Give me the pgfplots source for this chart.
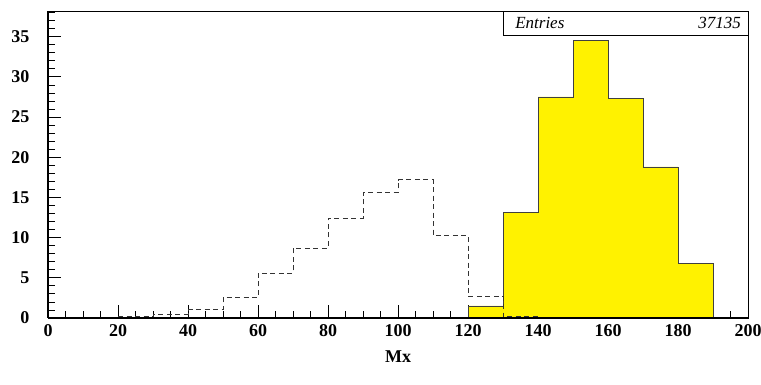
\documentclass[border=0pt]{standalone}
\usepackage{pgfplots}
\pgfplotsset{compat=1.18}
\usepackage{fontspec}
\setmainfont{Liberation Serif}
\begin{document}
\begin{tikzpicture}[x=1pt,y=1pt]
\useasboundingbox (0,0) rectangle (761,385);
\begin{axis}[
  at={(48pt,67pt)}, anchor=origin,
  scale only axis, width=700pt, height=307pt,
  xmin=0, xmax=200, ymin=0, ymax=38.2,
  xtick={0,20,...,200}, minor xtick={5,10,...,195},
  ytick={0,5,...,35}, minor ytick={1,2,...,38},
  tick align=inside, xtick pos=bottom, ytick pos=left,
  major tick length=13pt, minor tick length=7pt,
  every tick/.style={black, line width=0.8pt},
  /pgf/number format/assume math mode=true,
  tick label style={font=\fontsize{18}{20}\selectfont\bfseries},
  xticklabel style={yshift=-3pt},
  yticklabel style={xshift=-15pt},
  axis line style={line width=0.8pt},
  clip=false,
]
\addplot[const plot mark left, fill=yellow, draw=black!75, line width=0.7pt]
  coordinates {(120,0) (120,1.5) (130,13.1) (140,27.5) (150,34.5) (160,27.3) (170,18.8) (180,6.8) (190,6.8) (190,0)} \closedcycle;
\addplot[const plot mark left, draw=black!80, dash pattern=on 5pt off 3.5pt, line width=0.7pt]
  coordinates {(20,0.2) (30,0.45) (40,1.05) (50,2.55) (60,5.57) (70,8.68) (80,12.4) (90,15.6) (100,17.2) (110,10.3) (120,2.7) (130,0.15) (140,0.15) (140,0)};
\draw[line width=1.5pt] (axis cs:0,0) -- (axis cs:200,0);
\draw[line width=1.5pt] (axis cs:0,0) -- (axis cs:0,38.2);
\draw[fill=white, line width=0.8pt] (axis cs:130.2,38.2) rectangle (axis cs:200,35.2);
\node[anchor=west, font=\fontsize{17}{19}\selectfont\itshape] at (axis cs:132.5,36.7) {Entries};
\node[anchor=east, font=\fontsize{17}{19}\selectfont\itshape] at (axis cs:199,36.7) {37135};
\node[font=\fontsize{18}{20}\selectfont\bfseries] at (rel axis cs:0.50,-0.125) {Mx};
\end{axis}
\end{tikzpicture}
\end{document}
